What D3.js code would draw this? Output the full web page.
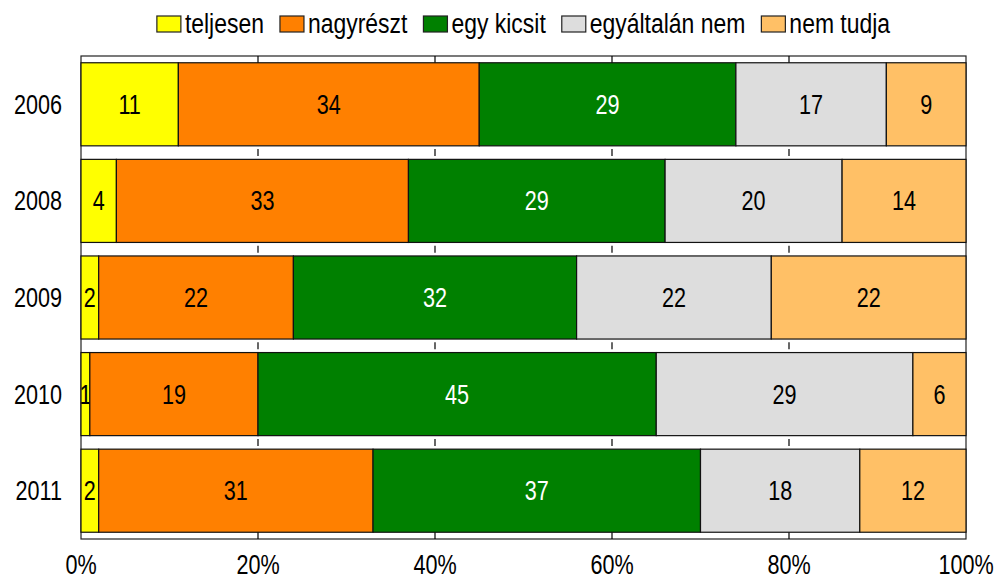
<!DOCTYPE html>
<html>
<head>
<meta charset="utf-8">
<script src="https://cdn.jsdelivr.net/npm/d3@7"></script>
<style>
body{margin:0;background:#fff;}
svg{display:block;font-family:"Liberation Sans",Arial,sans-serif;}
</style>
</head>
<body>
<div id="chart"></div>
<script>
// adatok
var years = ["2006","2008","2009","2010","2011"]
var keys = ["teljesen","nagyrészt","egy kicsit","egyáltalán nem","nem tudja"]
var teljesen = [11,4,2,1,2]
var nagyreszt = [34,33,22,19,31]
var egyKicsit = [29,29,32,45,37]
var egyaltalanNem = [17,20,22,29,18]
var nemTudja = [9,14,22,6,12]
var ticks = [0,20,40,60,80,100]
var colors = ["#ffff00","#ff8000","#008000","#dddddd","#ffc066"]
var textColors = ["#000","#000","#fff","#000","#000"]

var series = [teljesen,nagyreszt,egyKicsit,egyaltalanNem,nemTudja]
var rows = years.map(function(y,i){
    var o = {year:y}
    keys.forEach(function(k,j){ o[k]=series[j][i] })
    return o
})

var width = 997, height = 580
var pLeft = 81, pRight = 966, pTop = 56, pBottom = 539
var fs = 27
var narrow = 0.8   // keskeny betű utánzása
var lgNarrow = 0.85

var svg = d3.select("#chart").append("svg")
    .attr("width",width)
    .attr("height",height)

var x = d3.scaleLinear().domain([0,100]).range([pLeft,pRight])
var y = d3.scaleBand().domain(years).range([pTop,pBottom]).paddingInner(0.14).paddingOuter(0.07)

function place(sel,fx,fy,s){
    sel.attr("transform",(d,i)=>"translate("+fx(d,i)+","+fy(d,i)+") scale("+s+",1)")
}

// keret
svg.append("rect")
    .attr("x",pLeft).attr("y",pTop)
    .attr("width",pRight-pLeft).attr("height",pBottom-pTop)
    .attr("fill","#fff")
    .attr("stroke","#222")
    .attr("stroke-width",1.2)

// rövid rácsvonalak a sávok közötti résekben
var gaps = []
years.forEach(function(yr,i){
    if(i==0) gaps.push((pTop+y(yr))/2)
    else gaps.push((y(years[i-1])+y.bandwidth()+y(yr))/2)
})
gaps.push((y(years[years.length-1])+y.bandwidth()+pBottom)/2)
gaps.forEach(function(g){
    svg.append("g").selectAll("line")
        .data(ticks.slice(1,-1))
        .join("line")
        .attr("x1",d=>x(d)).attr("x2",d=>x(d))
        .attr("y1",g-3.5).attr("y2",g+3.5)
        .attr("stroke","#000")
        .attr("stroke-width",1.2)
})

var stack = d3.stack().keys(keys)
var stacked = stack(rows)

var layers = svg.append("g").selectAll("g")
    .data(stacked)
    .join("g")
    .attr("fill",(d,i)=>colors[i])

layers.selectAll("rect")
    .data(d=>d)
    .join("rect")
    .attr("x",d=>x(d[0]))
    .attr("y",d=>y(d.data.year))
    .attr("width",d=>x(d[1])-x(d[0]))
    .attr("height",y.bandwidth())
    .attr("stroke","#111")
    .attr("stroke-width",1.2)

layers.each(function(s,i){
    d3.select(this).selectAll("text")
        .data(s)
        .join("text")
        .call(place,d=>(x(d[0])+x(d[1]))/2,d=>y(d.data.year)+y.bandwidth()/2,narrow)
        .attr("dy","0.35em")
        .attr("text-anchor","middle")
        .attr("font-size",fs)
        .attr("fill",textColors[i])
        .text(d=>d[1]-d[0])
})

// y tengely feliratok
svg.append("g").selectAll("text")
    .data(years)
    .join("text")
    .call(place,d=>pLeft-19,d=>y(d)+y.bandwidth()/2,narrow)
    .attr("dy","0.35em")
    .attr("text-anchor","end")
    .attr("font-size",fs)
    .text(d=>d)

// x tengely feliratok
svg.append("g").selectAll("text")
    .data(ticks)
    .join("text")
    .call(place,d=>x(d),d=>574,narrow)
    .attr("text-anchor","middle")
    .attr("font-size",fs)
    .text(d=>d+"%")

// jelmagyarázat
var lg = svg.append("g")
var items = lg.selectAll("g")
    .data(keys)
    .join("g")
items.append("rect")
    .attr("width",24).attr("height",16)
    .attr("y",16)
    .attr("fill",(d,i)=>colors[i])
    .attr("stroke","#222")
    .attr("stroke-width",1.2)
items.append("text")
    .attr("transform","translate(28,24) scale("+lgNarrow+",1)")
    .attr("dy","0.35em")
    .attr("font-size",fs)
    .text(d=>d)
var pos = 0
items.each(function(){
    var w = d3.select(this).select("text").node().getComputedTextLength()*lgNarrow
    d3.select(this).attr("transform","translate("+pos+",0)")
    pos += 28+w+16
})
pos -= 16
lg.attr("transform","translate("+((pLeft+pRight)/2-pos/2)+",0)")
</script>
</body>
</html>
